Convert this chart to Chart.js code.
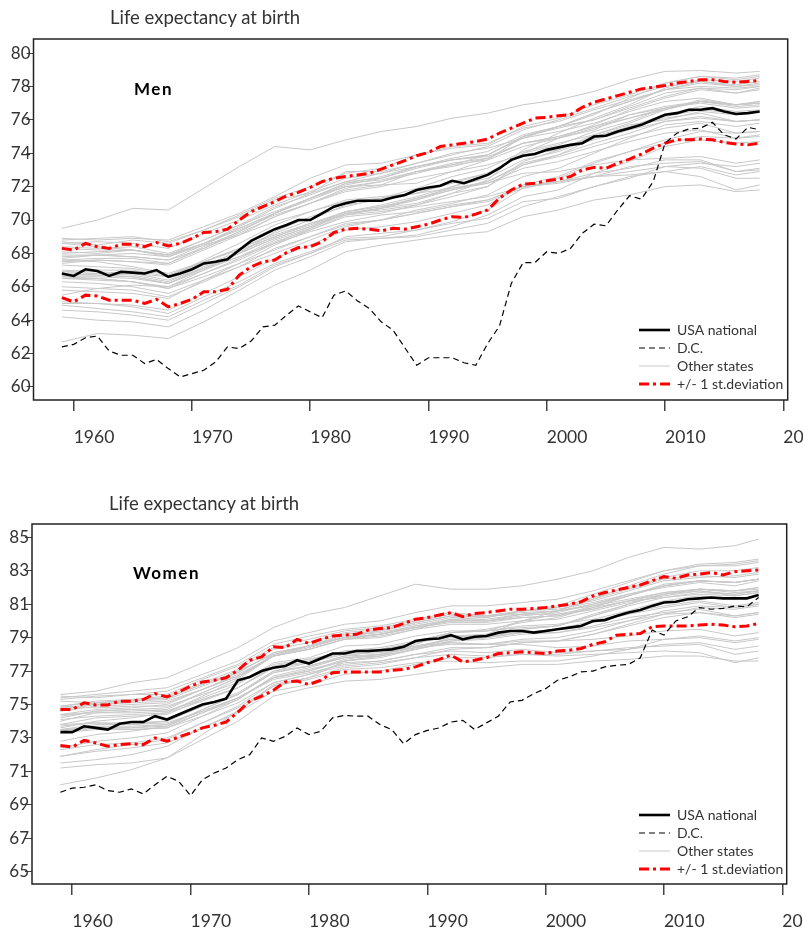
<!DOCTYPE html>
<html><head><meta charset="utf-8">
<script src="https://cdn.jsdelivr.net/npm/chart.js@4.4.1/dist/chart.umd.min.js"></script>
<style>
html,body{margin:0;padding:0;width:803px;height:932px;overflow:hidden;background:#fff;}
canvas{position:absolute;left:0;}
.t{position:absolute;font-family:Lato,sans-serif;white-space:nowrap;}
.title{font-size:18.5px;color:#333;line-height:22px;}
.panel{font-size:17px;font-weight:bold;color:#000;letter-spacing:1.5px;line-height:20px;}
</style></head><body>
<canvas id="men" style="top:0;width:850px;height:460px" width="850" height="460"></canvas>
<canvas id="women" style="top:470px;width:850px;height:462px" width="850" height="462"></canvas>
<div class="t title" style="left:110px;top:6px">Life expectancy at birth</div>
<div class="t panel" style="left:134px;top:79px">Men</div>
<div class="t title" style="left:109px;top:492px">Life expectancy at birth</div>
<div class="t panel" style="left:133px;top:563px">Women</div>
<script>
// ---------- data ----------
const years = [1959,1960,1961,1962,1963,1964,1965,1966,1967,1968,1969,1970,1971,1972,1973,1974,1975,1976,1977,1978,
1979,1980,1981,1982,1983,1984,1985,1986,1987,1988,1989,1990,1991,1992,1993,1994,1995,1996,1997,1998,
1999,2000,2001,2002,2003,2004,2005,2006,2007,2008,2009,2010,2011,2012,2013,2014,2015,2016,2017,2018];
const stateYears = [1959,1962,1965,1968,1971,1974,1977,1980,1983,1986,1989,1992,1995,1998,2001,2004,2007,2010,2013,2016,2018];
const xTicks = [1960,1970,1980,1990,2000,2010,2020];
const menYTicks = [60,62,64,66,68,70,72,74,76,78,80];
const womenYTicks = [65,67,69,71,73,75,77,79,81,83,85];
const seriesNames = ['USA national','D.C.','+/- 1 st.deviation','+/- 1 st.deviation','Other states'];

const menUSA = [66.8,66.65,67.05,66.95,66.65,66.9,66.85,66.8,67.0,66.6,
66.8,67.05,67.4,67.5,67.65,68.2,68.75,69.1,69.45,69.7,
70.0,70.0,70.4,70.8,71.0,71.15,71.15,71.15,71.35,71.5,
71.8,71.95,72.05,72.35,72.2,72.45,72.7,73.1,73.6,73.85,
73.95,74.2,74.35,74.5,74.6,75.0,75.05,75.3,75.5,75.7,
76.0,76.3,76.4,76.6,76.6,76.7,76.5,76.35,76.4,76.5];
const menDC = [62.4,62.55,62.95,63.05,62.15,61.9,61.9,61.4,61.65,61.1,
60.6,60.8,61.0,61.5,62.4,62.3,62.75,63.6,63.7,64.3,
64.85,64.5,64.15,65.5,65.75,65.15,64.7,63.9,63.4,62.35,
61.3,61.75,61.75,61.75,61.45,61.3,62.6,63.65,66.2,67.45,
67.45,68.1,68.0,68.3,69.2,69.75,69.65,70.6,71.45,71.25,
72.3,74.6,75.2,75.45,75.5,75.85,75.1,74.85,75.55,75.4];
const menSdUpper = [68.3,68.2,68.6,68.4,68.3,68.55,68.55,68.4,68.65,68.45,
68.6,68.9,69.25,69.3,69.45,70.0,70.5,70.8,71.1,71.45,
71.65,71.95,72.3,72.5,72.6,72.7,72.8,73.05,73.3,73.55,
73.85,74.05,74.4,74.5,74.6,74.7,74.85,75.2,75.5,75.8,
76.1,76.15,76.25,76.3,76.75,77.05,77.25,77.45,77.65,77.85,
77.95,78.05,78.2,78.3,78.4,78.4,78.3,78.25,78.3,78.35];
const menSdLower = [65.35,65.1,65.5,65.45,65.2,65.2,65.2,65.0,65.25,64.8,
65.0,65.25,65.7,65.7,65.85,66.7,67.2,67.5,67.6,68.05,
68.35,68.4,68.7,69.25,69.45,69.5,69.45,69.35,69.5,69.45,
69.6,69.75,70.0,70.2,70.15,70.35,70.6,71.3,71.8,72.15,
72.2,72.35,72.45,72.6,73.0,73.15,73.1,73.4,73.65,73.95,
74.3,74.6,74.8,74.8,74.85,74.8,74.65,74.55,74.5,74.6];
const menOtherStates = [
[69.5,70.0,70.7,70.6,71.9,73.2,74.4,74.2,74.8,75.3,75.6,76.1,76.4,76.9,77.2,77.7,78.4,78.9,78.95,78.8,78.9],
[68.9,68.8,68.9,68.8,69.6,70.4,71.4,72.5,73.3,73.4,73.9,74.3,74.5,75.6,76.1,76.9,77.5,78.2,78.6,78.4,78.6],
[68.7,68.5,68.8,68.6,69.4,70.3,71.3,72.0,72.8,73.1,73.9,74.4,74.6,75.5,75.9,76.6,77.2,77.8,78.0,77.9,78.0],
[67.4,67.6,67.5,67.4,68.4,69.3,70.4,71.3,72.0,72.1,72.2,72.9,73.6,75.0,75.6,76.3,77.3,78.2,78.6,78.5,78.7],
[66.8,66.7,66.6,66.2,67.0,67.8,68.8,69.5,70.4,70.6,70.9,71.6,72.4,74.2,75.2,76.1,76.9,77.9,78.4,78.3,78.5],
[67.5,67.6,67.5,67.3,68.2,69.1,70.2,71.0,71.9,72.3,72.8,73.3,73.9,74.9,75.6,76.4,77.1,77.8,78.2,78.0,78.2],
[67.8,67.9,67.8,67.6,68.5,69.5,70.4,71.3,72.2,72.6,73.2,73.6,73.9,75.0,75.5,76.0,76.8,77.6,77.9,77.6,77.8],
[68.6,68.7,68.6,68.3,69.2,70.0,70.9,71.7,72.5,72.8,73.2,73.6,73.8,74.6,75.0,75.6,76.1,76.6,77.2,76.9,77.1],
[67.9,67.9,68.0,67.8,68.6,69.6,70.7,71.6,72.3,72.5,73.1,73.6,73.9,75.0,75.6,76.0,76.7,77.4,77.9,77.8,78.0],
[68.4,68.3,68.4,68.0,68.8,69.7,70.5,71.3,72.2,72.4,72.9,73.4,73.7,74.6,74.9,75.4,76.3,76.7,77.1,76.9,77.0],
[68.1,68.0,68.2,67.9,68.6,69.5,70.4,71.2,72.0,72.3,72.9,73.3,73.6,74.4,74.9,75.5,76.1,76.7,77.0,76.7,76.8],
[66.5,66.5,66.3,66.0,66.8,67.6,68.6,69.5,70.4,70.7,71.2,72.0,72.7,74.0,74.9,75.7,76.6,77.3,77.8,77.6,77.9],
[67.6,67.7,67.7,67.4,68.3,69.3,70.4,71.3,72.1,72.5,73.2,73.7,74.1,75.1,75.6,76.4,77.1,77.8,78.3,78.0,78.1],
[67.7,67.9,67.8,67.6,68.3,69.2,70.2,71.0,71.8,72.1,72.9,73.2,73.7,74.6,75.0,75.6,76.3,76.8,77.1,76.9,77.0],
[68.3,68.2,68.2,67.9,68.6,69.4,70.3,71.0,71.7,72.0,72.5,72.9,73.3,73.9,74.3,74.8,75.4,75.9,76.1,75.9,76.0],
[66.6,66.6,66.5,66.2,67.1,68.0,68.9,69.6,70.5,70.9,71.4,72.0,72.5,73.6,74.1,74.9,75.5,76.1,76.4,75.9,76.0],
[66.9,66.8,66.7,66.3,67.3,68.1,69.0,69.7,70.5,70.8,71.3,71.8,72.3,73.4,73.9,74.6,75.2,75.9,76.2,75.9,76.0],
[66.7,66.7,66.6,66.2,67.2,68.0,68.9,69.6,70.4,70.7,71.3,71.9,72.3,73.3,73.8,74.4,75.0,75.5,75.8,75.2,75.3],
[66.5,66.4,66.3,65.9,66.8,67.7,68.7,69.4,70.2,70.4,70.9,71.4,72.0,73.5,74.2,75.1,75.8,76.6,77.1,76.8,76.9],
[66.7,66.8,66.8,66.6,67.6,68.6,69.7,70.5,71.2,71.4,71.6,72.2,72.8,74.0,74.5,75.3,75.9,76.7,77.1,76.9,77.0],
[66.9,67.0,67.0,66.6,67.5,68.3,69.2,70.0,70.9,71.2,71.6,72.3,72.8,73.9,74.2,75.0,75.6,76.2,76.6,76.4,76.5],
[65.8,65.7,65.6,65.3,66.4,67.4,68.5,69.4,70.3,70.7,71.0,71.6,72.0,73.3,73.9,74.9,75.6,76.3,76.8,76.5,76.6],
[66.0,65.9,65.8,65.4,66.3,67.2,68.3,69.0,69.8,70.0,70.6,71.0,71.5,72.6,73.1,74.0,74.9,75.7,75.9,75.6,75.8],
[67.3,67.2,67.1,66.7,67.5,68.2,69.0,69.8,70.5,70.8,71.2,71.8,72.2,73.1,73.5,74.1,74.7,75.2,75.4,74.9,75.1],
[65.0,65.0,64.9,64.6,65.6,66.6,67.7,68.5,69.4,69.6,69.9,70.4,70.9,72.1,72.6,73.5,74.1,74.8,75.3,75.2,75.3],
[64.6,64.5,64.3,64.0,65.0,66.0,67.2,68.0,69.0,69.2,69.4,69.9,70.6,71.9,72.5,73.4,74.1,74.6,75.0,74.9,75.0],
[64.2,64.0,63.9,63.6,64.6,65.8,67.0,67.8,68.7,68.9,69.1,69.6,70.3,71.4,71.8,72.8,73.5,74.4,74.8,74.6,74.7],
[65.1,65.0,64.8,64.4,65.4,66.3,67.4,68.1,68.9,69.0,69.4,69.8,70.1,71.1,71.3,72.0,72.6,72.9,73.2,72.7,72.9],
[64.9,64.7,64.5,64.2,65.2,66.1,67.3,68.0,68.8,68.9,69.0,69.4,69.8,70.8,71.4,72.0,72.5,73.2,73.4,73.2,73.4],
[66.6,66.5,66.3,65.9,66.6,67.4,68.2,69.0,69.7,70.0,70.4,70.8,71.1,71.9,72.3,72.6,73.2,73.4,73.5,72.9,73.0],
[67.0,66.9,66.8,66.4,67.1,67.8,68.6,69.3,69.9,70.3,70.5,70.9,71.2,72.0,72.3,72.8,73.1,73.6,73.6,72.9,73.1],
[62.7,63.2,63.1,62.9,63.9,65.0,66.1,67.0,68.1,68.5,68.8,69.1,69.3,70.2,70.6,71.2,71.5,72.0,72.1,71.7,71.8],
[68.6,68.4,68.2,67.8,68.5,69.1,69.9,70.5,71.1,71.3,71.6,71.9,72.2,72.8,72.9,73.3,73.6,73.7,73.8,73.4,73.6],
[68.0,68.1,68.2,67.9,68.8,69.7,70.8,71.5,72.3,72.8,73.4,73.9,74.4,75.4,76.0,76.7,77.4,78.0,78.3,78.1,78.3],
[65.5,65.9,66.1,66.0,67.0,68.0,69.3,70.2,70.8,71.3,71.9,72.6,73.1,74.1,74.6,75.1,75.7,76.0,76.5,76.3,76.5],
[68.8,68.9,69.0,68.7,69.4,70.2,71.2,71.6,72.9,72.9,73.4,74.0,74.3,74.9,75.3,75.8,76.5,77.1,77.3,76.9,77.1],
[66.3,66.2,66.0,65.6,66.4,67.2,68.0,68.8,69.6,70.0,70.4,70.8,71.2,72.0,72.3,72.6,72.7,72.9,72.6,71.8,72.1],
[67.6,67.5,67.2,66.8,67.5,68.3,69.1,69.8,70.3,70.5,70.8,71.1,71.4,72.0,72.2,72.6,72.9,73.2,73.1,72.5,72.5]
];

const womenUSA = [73.35,73.35,73.7,73.6,73.5,73.85,73.95,73.95,74.3,74.1,
74.4,74.7,75.0,75.15,75.35,76.45,76.65,77.0,77.2,77.3,
77.65,77.45,77.75,78.05,78.05,78.2,78.2,78.25,78.3,78.45,
78.8,78.9,78.95,79.15,78.9,79.05,79.1,79.3,79.4,79.4,
79.3,79.4,79.5,79.6,79.7,80.0,80.05,80.3,80.5,80.65,
80.9,81.1,81.15,81.3,81.35,81.4,81.35,81.35,81.35,81.55];
const womenDC = [69.75,70.0,70.05,70.2,69.85,69.75,69.95,69.65,70.2,70.7,
70.4,69.55,70.5,70.9,71.2,71.7,72.0,73.0,72.8,73.1,
73.6,73.2,73.4,74.2,74.35,74.3,74.3,73.8,73.5,72.65,
73.2,73.45,73.6,73.95,74.05,73.5,73.9,74.3,75.15,75.25,
75.65,75.95,76.45,76.65,76.95,77.0,77.25,77.35,77.4,77.8,
79.45,79.15,80.0,80.25,80.8,80.7,80.75,80.9,80.85,81.4];
const womenSdUpper = [74.7,74.7,75.1,74.97,74.97,75.2,75.2,75.3,75.65,75.45,
75.75,76.1,76.35,76.45,76.6,77.05,77.65,77.85,78.45,78.4,
78.9,78.65,78.9,79.1,79.15,79.2,79.45,79.55,79.6,79.85,
80.1,80.2,80.35,80.5,80.25,80.45,80.5,80.6,80.7,80.7,
80.75,80.8,80.9,81.0,81.15,81.5,81.7,81.85,82.0,82.15,
82.4,82.65,82.55,82.75,82.8,82.9,82.75,82.95,83.0,83.05];
const womenSdLower = [72.55,72.45,72.85,72.7,72.5,72.6,72.65,72.6,73.0,72.8,
73.05,73.3,73.6,73.75,73.95,74.55,75.2,75.5,75.85,76.35,
76.4,76.2,76.45,76.9,76.95,76.95,76.95,76.95,77.05,77.1,
77.25,77.5,77.7,77.95,77.55,77.65,77.8,78.05,78.1,78.15,
78.1,78.05,78.2,78.25,78.35,78.6,78.75,79.15,79.2,79.25,
79.65,79.7,79.7,79.7,79.75,79.8,79.75,79.65,79.7,79.85];
const womenOtherStates = [
[75.6,75.8,76.3,76.6,77.5,78.4,79.6,80.4,80.8,81.5,82.2,81.9,81.9,82.1,82.5,83.0,83.8,84.4,84.3,84.5,84.9],
[75.4,75.6,75.8,76.0,76.8,77.6,78.8,79.3,79.8,80.0,80.5,80.9,80.9,81.1,81.3,81.8,82.4,83.0,83.3,83.4,83.6],
[74.2,74.6,74.7,74.8,75.7,76.6,77.9,78.3,78.9,79.1,79.5,80.1,80.2,80.6,80.9,81.6,82.3,83.0,83.4,83.5,83.7],
[75.2,75.1,75.3,75.5,76.3,77.1,78.3,78.7,79.3,79.5,79.9,80.3,80.2,80.6,80.7,81.1,81.6,82.0,82.3,82.1,82.4],
[74.8,75.0,75.2,75.4,76.2,76.9,78.1,78.5,79.2,79.4,79.9,80.3,80.3,80.6,80.8,81.4,82.0,82.6,83.0,83.0,83.2],
[73.3,73.6,73.6,73.8,74.7,75.6,76.9,77.3,77.8,78.0,78.4,79.0,79.2,80.0,80.6,81.3,82.1,82.8,83.3,83.3,83.5],
[75.3,75.5,75.6,75.6,76.5,77.3,78.4,78.9,79.4,79.6,80.0,80.4,80.3,80.5,80.6,80.9,81.3,81.7,81.9,81.8,81.9],
[74.6,74.9,75.0,75.1,75.9,76.7,77.9,78.4,79.0,79.2,79.7,80.1,80.0,80.4,80.6,81.0,81.6,82.1,82.4,82.3,82.5],
[74.4,74.7,74.8,75.0,75.9,76.7,77.9,78.3,78.9,79.2,79.6,80.0,80.1,80.4,80.6,81.3,81.9,82.5,82.7,82.6,82.8],
[74.9,75.1,75.2,75.3,76.1,76.9,78.1,78.5,79.1,79.3,79.7,80.0,80.0,80.3,80.5,81.0,81.5,82.1,82.4,82.3,82.5],
[74.9,75.2,75.3,75.4,76.2,77.0,78.0,78.5,79.0,79.2,79.6,79.9,79.9,80.2,80.3,80.7,81.2,81.7,81.9,81.7,81.8],
[75.5,75.4,75.6,75.8,76.6,77.4,78.6,79.1,79.5,79.7,80.1,80.5,80.3,80.4,80.4,80.7,81.2,81.6,81.8,81.5,81.7],
[73.5,73.8,73.8,74.0,74.9,75.6,76.9,77.3,77.9,78.2,78.7,79.3,79.5,79.9,80.2,80.8,81.5,82.1,82.4,82.3,82.5],
[74.7,75.0,75.1,75.2,75.9,76.8,77.9,78.3,78.9,79.0,79.5,79.8,79.8,80.0,80.1,80.6,81.1,81.5,81.8,81.6,81.8],
[73.6,74.0,74.2,74.5,75.5,76.5,77.9,78.5,79.0,79.2,79.6,80.0,80.0,80.2,80.3,80.9,81.5,82.2,82.4,82.3,82.5],
[73.3,73.5,73.5,73.6,74.5,75.4,76.6,77.0,77.7,78.0,78.5,78.9,79.0,79.3,79.5,80.0,80.5,80.9,81.2,80.9,81.1],
[73.4,73.7,73.7,73.8,74.6,75.4,76.6,77.1,77.6,77.8,78.3,78.8,79.0,79.5,79.7,80.4,81.0,81.6,81.9,81.8,82.0],
[73.5,73.6,73.6,73.7,74.5,75.3,76.6,77.0,77.6,77.9,78.3,78.8,78.9,79.2,79.3,79.7,80.2,80.5,80.7,80.3,80.5],
[73.8,74.2,74.3,74.4,75.3,76.0,77.3,77.7,78.2,78.4,78.8,79.3,79.4,79.7,79.8,80.1,80.6,81.2,81.5,81.3,81.5],
[73.7,73.9,73.9,74.0,74.9,75.7,77.0,77.3,77.9,78.0,78.4,78.9,79.0,79.3,79.5,79.9,80.4,80.8,81.1,80.8,81.0],
[72.8,73.2,73.4,73.7,74.7,75.6,77.0,77.5,78.1,78.3,78.7,79.1,79.2,79.5,79.7,80.3,80.9,81.4,81.7,81.6,81.8],
[74.1,74.3,74.4,74.5,75.2,76.0,77.2,77.6,78.2,78.3,78.7,79.1,79.1,79.3,79.3,79.6,80.0,80.4,80.5,80.2,80.4],
[74.3,74.6,74.7,74.6,75.4,76.2,77.5,77.8,78.5,78.6,79.1,79.4,79.4,79.6,79.7,80.3,81.0,81.6,81.9,81.8,82.0],
[72.4,72.8,73.0,73.3,74.3,75.3,76.7,77.2,77.8,77.9,78.3,78.7,78.6,78.9,79.0,79.4,80.0,80.6,80.9,80.8,81.0],
[71.9,72.3,72.6,72.9,73.9,74.9,76.3,76.8,77.5,77.6,78.0,78.4,78.4,78.7,78.8,79.2,79.8,80.4,80.8,80.7,80.9],
[71.5,71.7,72.0,72.5,73.6,74.6,76.1,76.6,77.2,77.4,77.8,78.3,78.4,78.7,78.8,79.2,79.7,80.2,80.5,80.3,80.5],
[72.3,72.6,72.7,73.0,73.9,74.8,76.1,76.5,77.1,77.2,77.5,77.6,77.5,77.6,77.6,77.9,78.3,78.6,78.7,78.3,78.5],
[71.9,72.2,72.4,72.7,73.6,74.5,75.8,76.2,76.8,77.0,77.4,77.8,77.8,78.0,78.0,78.2,78.3,78.9,79.1,78.8,79.0],
[71.2,71.4,71.5,71.8,72.9,74.0,75.5,76.0,76.4,76.5,76.8,77.1,77.2,77.4,77.4,77.6,77.7,77.9,77.9,77.6,77.6],
[73.8,73.9,73.8,73.9,74.6,75.4,76.5,76.9,77.4,77.6,78.0,78.2,78.1,78.3,78.1,78.2,78.4,78.5,78.6,78.0,78.2],
[74.9,74.8,74.9,74.9,75.6,76.3,77.4,77.7,78.1,78.2,78.5,78.7,78.6,78.6,78.4,78.5,78.8,78.9,79.0,78.7,78.9],
[70.2,70.6,71.1,71.8,73.2,74.6,76.2,76.6,77.6,77.9,78.6,79.3,79.4,80.0,80.4,80.8,81.2,81.4,81.6,81.5,81.7],
[74.4,74.5,74.5,74.6,75.3,76.0,77.2,77.5,78.0,78.1,78.4,78.6,78.6,78.8,78.8,78.9,79.1,79.4,79.5,79.1,79.3],
[74.0,74.5,74.6,74.7,75.7,76.6,78.0,78.5,79.0,79.4,79.8,80.2,80.3,80.6,80.8,81.2,81.8,82.4,82.6,82.7,82.9],
[73.5,73.6,73.5,73.6,74.3,75.1,76.3,76.8,77.3,77.5,77.8,78.0,77.9,78.0,77.9,78.0,78.1,78.2,78.1,77.5,77.8]
];

// ---------- chart building ----------
const FONT = 'Lato';
function pts(xs, ys) { return ys.map((v, i) => ({ x: xs[i], y: v })); }

function buildDatasets(usa, dc, up, lo, states) {
  const ds = [
    { label: seriesNames[0], data: pts(years, usa), borderColor: '#000', borderWidth: 2.6 },
    { label: seriesNames[1], data: pts(years, dc), borderColor: '#000', borderWidth: 1.2, borderDash: [6, 4] },
    { label: seriesNames[2], data: pts(years, up), borderColor: '#ff0000', borderWidth: 3, borderDash: [10, 4, 3, 4] },
    { label: seriesNames[3], data: pts(years, lo), borderColor: '#ff0000', borderWidth: 3, borderDash: [10, 4, 3, 4] }
  ];
  states.forEach(s => ds.push({ label: seriesNames[4], data: pts(stateYears, s), borderColor: '#c8c8c8', borderWidth: 1 }));
  return ds;
}

const framePlugin = {
  id: 'frame',
  afterDatasetsDraw(chart) {
    const { ctx, chartArea: a } = chart;
    ctx.save();
    ctx.strokeStyle = '#222';
    ctx.lineWidth = 1.5;
    ctx.strokeRect(a.left, a.top, a.right - a.left, a.bottom - a.top);
    ctx.restore();
  }
};

function makeChart(id, datasets, yMin, yMax, yTicks, opt) {
  const legendRank = { 0: 0, 1: 1, 4: 2, 2: 3 };
  return new Chart(document.getElementById(id), {
    type: 'line',
    data: { datasets },
    plugins: [framePlugin, {
      id: 'legendPlace',
      afterLayout(chart) {
        const lg = chart.legend;
        if (!lg) return;
        lg.left = opt.legendLeft;
        lg.right = 850;
        lg.top = chart.chartArea.top;
        lg.bottom = opt.legendBottom;
      }
    }],
    options: {
      responsive: false,
      animation: false,
      devicePixelRatio: 1,
      events: [],
      layout: { autoPadding: false, padding: { top: opt.top, left: 0, right: opt.right, bottom: 0 } },
      elements: { point: { radius: 0 }, line: { tension: 0, borderCapStyle: 'butt' } },
      plugins: {
        tooltip: { enabled: false },
        title: { display: false },
        legend: {
          position: 'chartArea',
          align: 'end',
          labels: {
            usePointStyle: true,
            pointStyle: 'line',
            pointStyleWidth: 31,
            padding: 4,
            color: '#333',
            font: { family: FONT, size: 14 },
            generateLabels(chart) {
              const items = Chart.defaults.plugins.legend.labels.generateLabels(chart);
              items.forEach(it => {
                const d = chart.data.datasets[it.datasetIndex];
                it.lineDash = d.borderDash || [];
                it.lineWidth = d.borderWidth;
                it.strokeStyle = d.borderColor;
                it.fillStyle = d.borderColor;
                it.pointStyle = 'line';
                it.lineCap = 'butt';
              });
              return items;
            },
            filter: (item) => item.datasetIndex in legendRank,
            sort: (a, b) => legendRank[a.datasetIndex] - legendRank[b.datasetIndex]
          }
        }
      },
      scales: {
        x: {
          type: 'linear',
          min: 1956.6,
          max: 2020.37,
          afterBuildTicks: s => { s.ticks = xTicks.map(v => ({ value: v })); },
          afterFit: s => { s.height = opt.xHeight; },
          border: { display: false },
          grid: { drawOnChartArea: false, drawTicks: true, tickLength: 11, color: '#444', lineWidth: 1.5 },
          ticks: { align: 'start', padding: 16, color: '#333', font: { family: FONT, size: 17.5 }, maxRotation: 0, autoSkip: false, callback: v => String(v) }
        },
        y: {
          type: 'linear',
          min: yMin,
          max: yMax,
          afterBuildTicks: s => { s.ticks = yTicks.map(v => ({ value: v })); },
          afterFit: s => { s.width = opt.yWidth; },
          border: { display: false },
          grid: { drawOnChartArea: false, drawTicks: true, tickLength: 7, color: '#444', lineWidth: 1 },
          ticks: { padding: -4, color: '#333', font: { family: FONT, size: 17 }, autoSkip: false, callback: v => String(v) }
        }
      }
    }
  });
}

makeChart('men', buildDatasets(menUSA, menDC, menSdUpper, menSdLower, menOtherStates), 59.22, 80.84, menYTicks,
  { top: 39, right: 62.3, yWidth: 33.5, xHeight: 60, legendLeft: 635, legendBottom: 395 });
makeChart('women', buildDatasets(womenUSA, womenDC, womenSdUpper, womenSdLower, womenOtherStates), 64.26, 85.8, womenYTicks,
  { top: 54, right: 63.3, yWidth: 32, xHeight: 48, legendLeft: 635, legendBottom: 410 });
</script>
</body></html>
